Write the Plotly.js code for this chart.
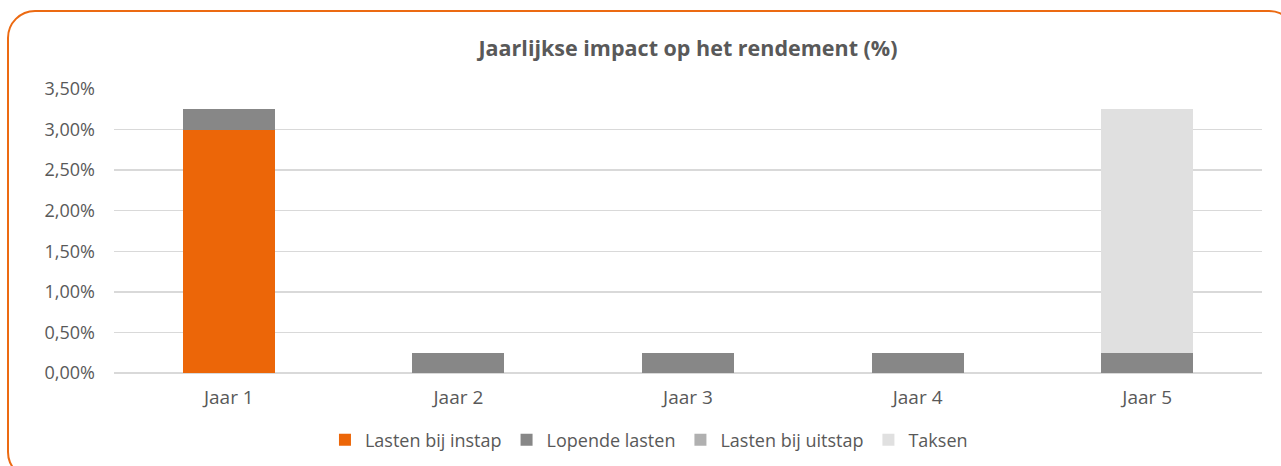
<!DOCTYPE html>
<html>
<head>
<meta charset="utf-8">
<script src="https://cdn.plot.ly/plotly-3.0.1.min.js"></script>
<style>
  html, body { margin:0; padding:0; width:1281px; height:466px; overflow:hidden; background:#fff; }
  #frame { position:absolute; left:7px; top:10px; width:1290px; height:470px; border:2.5px solid #EC6A12; border-radius:28px; box-sizing:border-box; }
  #chart { position:absolute; left:0; top:0; width:1281px; height:466px; }
</style>
</head>
<body>
<div id="frame"></div>
<div id="chart"></div>
<script>
const categories = ["Jaar 1", "Jaar 2", "Jaar 3", "Jaar 4", "Jaar 5"];
const lastenBijInstap = [3.00, 0, 0, 0, 0];
const lopendeLasten = [0.25, 0.25, 0.25, 0.25, 0.25];
const lastenBijUitstap = [0, 0, 0, 0, 0];
const taksen = [0, 0, 0, 0, 3.00];
const yTicks = [0, 0.5, 1, 1.5, 2, 2.5, 3, 3.5];
const yTickLabels = ["0,00%", "0,50%", "1,00%", "1,50%", "2,00%", "2,50%", "3,00%", "3,50%"];

const font = "Open Sans, sans-serif";
const txt = "#595959";
const mk = (name, y, color) => ({
  type: "bar", name: name, x: categories, y: y,
  marker: { color: color, line: { width: 0 } },
  width: 0.4, hoverinfo: "x+y+name"
});

const data = [
  mk("Lasten bij instap", lastenBijInstap, "#EC6608"),
  mk("Lopende lasten", lopendeLasten, "#878787"),
  mk("Lasten bij uitstap", lastenBijUitstap, "#B0B0B0"),
  mk("Taksen", taksen, "#E0E0E0")
];

const layout = {
  width: 1281, height: 466,
  paper_bgcolor: "rgba(0,0,0,0)", plot_bgcolor: "rgba(0,0,0,0)",
  barmode: "stack",
  margin: { l: 114, r: 19, t: 89, b: 93, autoexpand: false },
  title: { text: "<b>Jaarlijkse impact op het rendement (%)</b>", x: 0.5, xref: "paper", xanchor: "center", y: 0.897, yanchor: "middle",
           font: { family: font, size: 21.5, color: txt } },
  font: { family: font, size: 18, color: txt },
  xaxis: { type: "category", showgrid: false, showline: false, zeroline: false, ticks: "", ticklabelstandoff: 11,
           tickfont: { family: font, size: 19, color: txt } },
  yaxis: { range: [0, 3.5], tickmode: "array", tickvals: yTicks, ticktext: yTickLabels,
           showgrid: true, gridcolor: "#D9D9D9", gridwidth: 1.5, zeroline: true, zerolinecolor: "#D9D9D9", zerolinewidth: 1.5,
           showline: false, ticks: "", ticklabelstandoff: 18,
           tickfont: { family: font, size: 18, color: txt } },
  showlegend: true,
  legend: { orientation: "h", x: 0.466, xanchor: "center", y: -0.236, yanchor: "middle",
            traceorder: "normal", itemwidth: 30, font: { family: font, size: 18, color: txt } }
};

Plotly.newPlot("chart", data, layout, { displayModeBar: false, staticPlot: true });
</script>
</body>
</html>
